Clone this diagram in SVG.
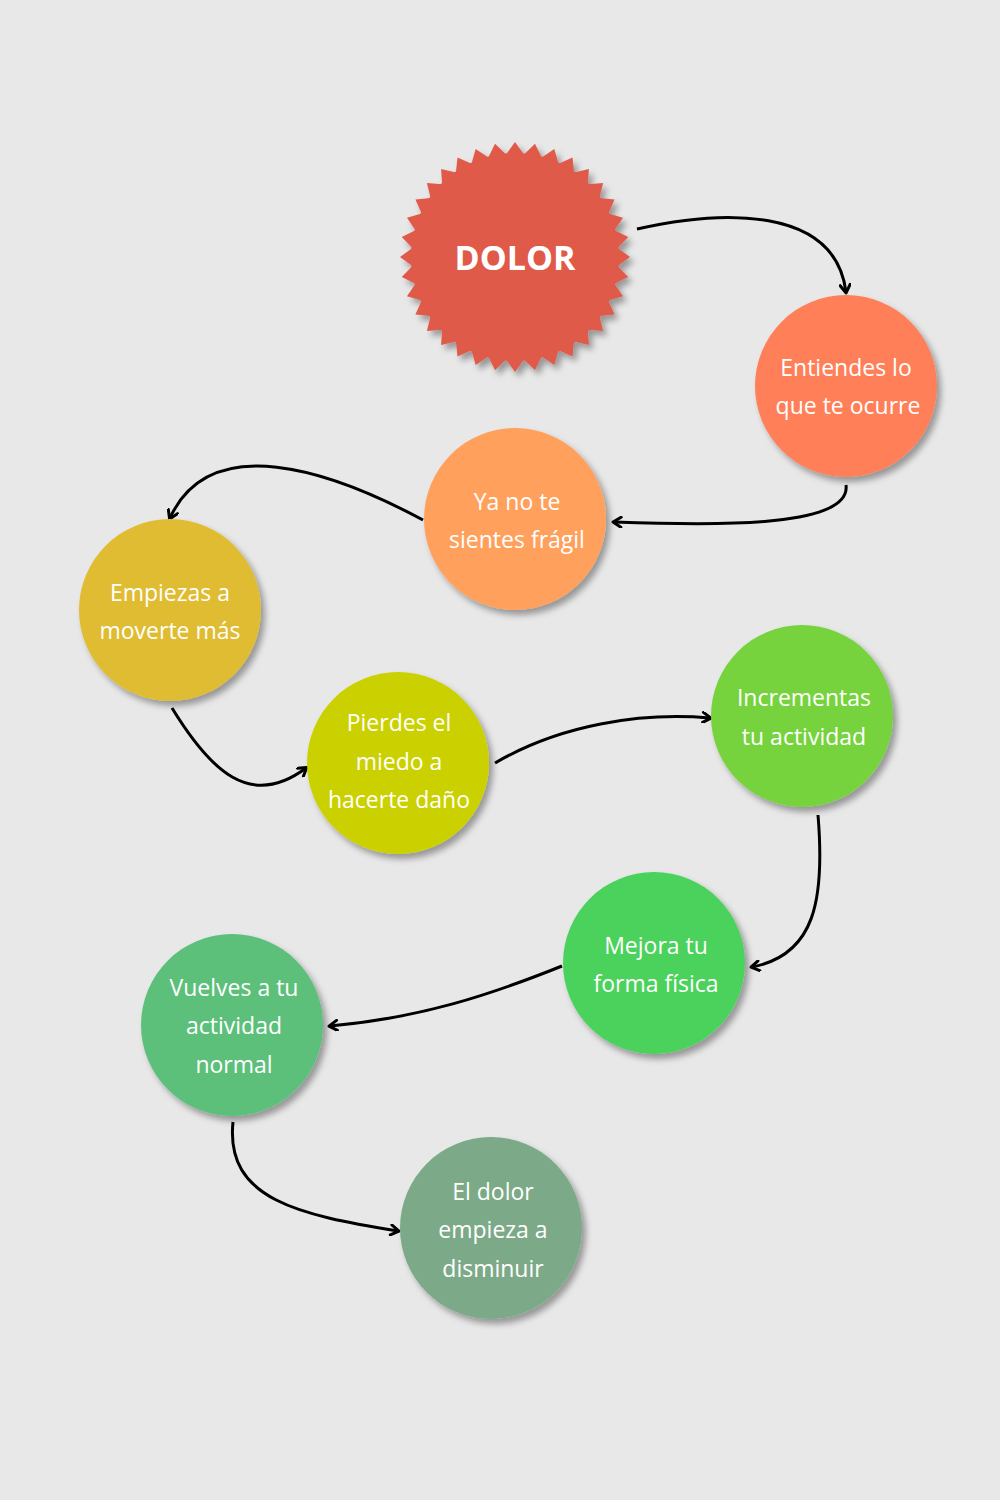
<svg xmlns="http://www.w3.org/2000/svg" xmlns:xlink="http://www.w3.org/1999/xlink" width="1000" height="1500" viewBox="0 0 1000 1500">
<style>
.lbl{font-family:"Open Sans","Liberation Sans",sans-serif;font-size:23px;fill:#fff;text-anchor:middle}
.c{stroke:#000;stroke-width:3;fill:none;marker-end:url(#ah)}
</style>
<defs>
<filter id="sh" x="-20%" y="-20%" width="150%" height="150%"><feDropShadow dx="4" dy="5" stdDeviation="3" flood-color="#000" flood-opacity="0.35"/></filter>
<marker id="ah" markerWidth="12" markerHeight="12" refX="9" refY="6" orient="auto" markerUnits="userSpaceOnUse"><path d="M2,1 L10,6 L2,11" fill="none" stroke="#000" stroke-width="3" stroke-linecap="round" stroke-linejoin="round"/></marker>
<polygon id="t" points="102.6,-9 115,0 102.6,9"/>
</defs>
<rect width="1000" height="1500" fill="#e8e8e8"/>
<g id="dolor" filter="url(#sh)">
<g transform="translate(515,257)" fill="#e05a49">
<circle r="104"/>
<use xlink:href="#t" transform="rotate(0)"/><use xlink:href="#t" transform="rotate(10)"/><use xlink:href="#t" transform="rotate(20)"/><use xlink:href="#t" transform="rotate(30)"/><use xlink:href="#t" transform="rotate(40)"/><use xlink:href="#t" transform="rotate(50)"/><use xlink:href="#t" transform="rotate(60)"/><use xlink:href="#t" transform="rotate(70)"/><use xlink:href="#t" transform="rotate(80)"/><use xlink:href="#t" transform="rotate(90)"/><use xlink:href="#t" transform="rotate(100)"/><use xlink:href="#t" transform="rotate(110)"/><use xlink:href="#t" transform="rotate(120)"/><use xlink:href="#t" transform="rotate(130)"/><use xlink:href="#t" transform="rotate(140)"/><use xlink:href="#t" transform="rotate(150)"/><use xlink:href="#t" transform="rotate(160)"/><use xlink:href="#t" transform="rotate(170)"/><use xlink:href="#t" transform="rotate(180)"/><use xlink:href="#t" transform="rotate(190)"/><use xlink:href="#t" transform="rotate(200)"/><use xlink:href="#t" transform="rotate(210)"/><use xlink:href="#t" transform="rotate(220)"/><use xlink:href="#t" transform="rotate(230)"/><use xlink:href="#t" transform="rotate(240)"/><use xlink:href="#t" transform="rotate(250)"/><use xlink:href="#t" transform="rotate(260)"/><use xlink:href="#t" transform="rotate(270)"/><use xlink:href="#t" transform="rotate(280)"/><use xlink:href="#t" transform="rotate(290)"/><use xlink:href="#t" transform="rotate(300)"/><use xlink:href="#t" transform="rotate(310)"/><use xlink:href="#t" transform="rotate(320)"/><use xlink:href="#t" transform="rotate(330)"/><use xlink:href="#t" transform="rotate(340)"/><use xlink:href="#t" transform="rotate(350)"/>
</g>
</g>
<text class="lbl" x="515" y="270" style="font-size:34px;font-weight:bold">DOLOR</text>
<g id="connectors">
<path class="c" d="M637,229 C720,210 835,205 846,292"/>
<path class="c" d="M846,485 C852,530 700,525 614,522"/>
<path class="c" d="M423,520 C330,470 210,430 170,518"/>
<path class="c" d="M172,708 C210,770 250,810 306,768"/>
<path class="c" d="M495,763 C560,725 640,712 710,718"/>
<path class="c" d="M818,815 C825,900 815,955 752,967"/>
<path class="c" d="M562,966 C490,995 420,1018 330,1026"/>
<path class="c" d="M233,1122 C225,1200 300,1215 398,1231"/>
</g>
<g id="n1"><circle cx="846" cy="386" r="91" fill="#ff7f59" filter="url(#sh)"/><text class="lbl" x="846" y="376">Entiendes lo</text><text class="lbl" x="848" y="414">que te ocurre</text></g>
<g id="n2"><circle cx="515" cy="519" r="91" fill="#ffa15c" filter="url(#sh)"/><text class="lbl" x="517" y="510">Ya no te</text><text class="lbl" x="517" y="548">sientes frágil</text></g>
<g id="n3"><circle cx="170" cy="610" r="91" fill="#e0bc32" filter="url(#sh)"/><text class="lbl" x="170" y="601">Empiezas a</text><text class="lbl" x="170" y="639">moverte más</text></g>
<g id="n4"><circle cx="398" cy="763" r="91" fill="#cbd100" filter="url(#sh)"/><text class="lbl" x="399" y="731">Pierdes el</text><text class="lbl" x="399" y="770">miedo a</text><text class="lbl" x="399" y="808">hacerte daño</text></g>
<g id="n5"><circle cx="802" cy="716" r="91" fill="#77d33e" filter="url(#sh)"/><text class="lbl" x="804" y="706">Incrementas</text><text class="lbl" x="804" y="745">tu actividad</text></g>
<g id="n6"><circle cx="654" cy="963" r="91" fill="#4cd25c" filter="url(#sh)"/><text class="lbl" x="656" y="954">Mejora tu</text><text class="lbl" x="656" y="992">forma física</text></g>
<g id="n7"><circle cx="232" cy="1025" r="91" fill="#5cc07a" filter="url(#sh)"/><text class="lbl" x="234" y="996">Vuelves a tu</text><text class="lbl" x="234" y="1034">actividad</text><text class="lbl" x="234" y="1073">normal</text></g>
<g id="n8"><circle cx="491" cy="1228" r="91" fill="#7baa88" filter="url(#sh)"/><text class="lbl" x="493" y="1200">El dolor</text><text class="lbl" x="493" y="1238">empieza a</text><text class="lbl" x="493" y="1277">disminuir</text></g>
</svg>
